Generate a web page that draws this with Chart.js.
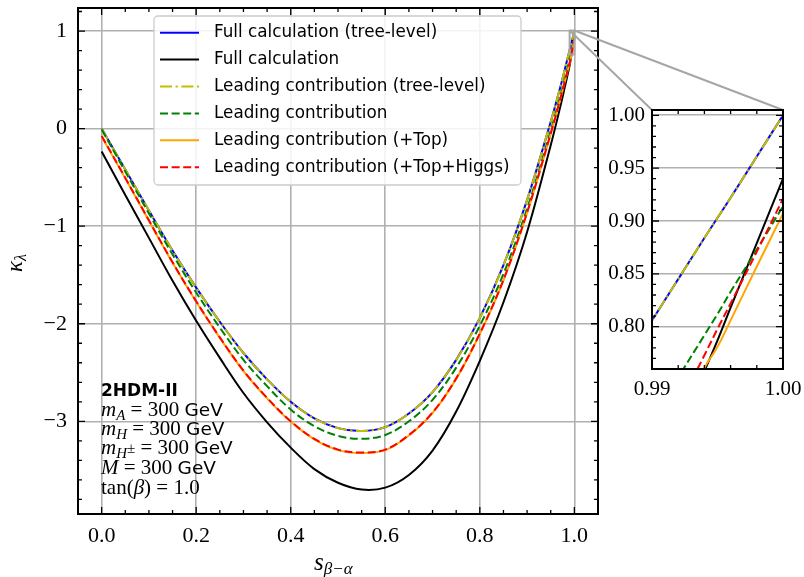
<!DOCTYPE html>
<html>
<head>
<meta charset="utf-8">
<script src="https://cdn.jsdelivr.net/npm/chart.js@4.4.1/dist/chart.umd.min.js"></script>
<style>
  html, body { margin: 0; padding: 0; background: #fff; }
  #wrap { position: relative; width: 804px; height: 577px; }
  #main { position: absolute; left: 0; top: 0; }
  #inset { position: absolute; left: 600px; top: 100px; }
</style>
</head>
<body>
<div id="wrap">
  <canvas id="main" width="804" height="577"></canvas>
  <canvas id="inset" width="204" height="310"></canvas>
</div>
<script>
const sValues = [0, 0.05, 0.1, 0.15, 0.2, 0.25, 0.3, 0.35, 0.4, 0.45, 0.5, 0.55, 0.6, 0.65, 0.7, 0.75, 0.8, 0.85, 0.9, 0.95, 0.97, 0.98, 0.99, 0.992, 0.994, 0.995, 0.996, 0.998, 1.0];

// kappa_lambda for each curve
const fullTree = [0.00, -0.42, -0.84, -1.25, -1.63, -1.98, -2.30, -2.57, -2.80, -2.97, -3.07, -3.10, -3.06, -2.92, -2.70, -2.37, -1.94, -1.40, -0.73, 0.07, 0.42, 0.61, 0.806, 0.845, 0.884, 0.903, 0.922, 0.961, 1.0];
const fullCalc = [-0.235, -0.68, -1.12, -1.56, -1.97, -2.35, -2.71, -3.01, -3.27, -3.49, -3.63, -3.70, -3.68, -3.55, -3.30, -2.90, -2.38, -1.78, -1.06, -0.17, 0.22, 0.43, 0.645, 0.703, 0.758, 0.787, 0.818, 0.879, 0.94];
const leadTree = [0.00, -0.42, -0.84, -1.25, -1.63, -1.98, -2.30, -2.57, -2.80, -2.97, -3.07, -3.10, -3.06, -2.92, -2.70, -2.37, -1.94, -1.40, -0.73, 0.07, 0.42, 0.61, 0.806, 0.845, 0.884, 0.903, 0.922, 0.961, 1.0];
const leadCalc = [-0.01, -0.44, -0.87, -1.29, -1.68, -2.04, -2.37, -2.64, -2.88, -3.05, -3.15, -3.18, -3.14, -3.00, -2.78, -2.45, -2.02, -1.49, -0.82, -0.02, 0.33, 0.515, 0.711, 0.752, 0.792, 0.812, 0.833, 0.873, 0.914];
const leadTop = [-0.08, -0.51, -0.945, -1.375, -1.775, -2.145, -2.485, -2.765, -3.005, -3.185, -3.295, -3.325, -3.295, -3.145, -2.915, -2.565, -2.105, -1.555, -0.865, -0.055, 0.295, 0.485, 0.668, 0.710, 0.761, 0.781, 0.806, 0.857, 0.907];
const leadTopHiggs = [-0.075, -0.505, -0.94, -1.37, -1.77, -2.14, -2.48, -2.76, -3.00, -3.18, -3.29, -3.32, -3.29, -3.14, -2.91, -2.56, -2.10, -1.55, -0.86, -0.05, 0.30, 0.49, 0.675, 0.724, 0.773, 0.798, 0.822, 0.871, 0.921];

const seriesLabels = [
  "Full calculation (tree-level)",
  "Full calculation",
  "Leading contribution (tree-level)",
  "Leading contribution",
  "Leading contribution (+Top)",
  "Leading contribution (+Top+Higgs)"
];

// tick labels
const xTicks = [0.0, 0.2, 0.4, 0.6, 0.8, 1.0];
const yTicks = [-3, -2, -1, 0, 1];
const insetXTicks = [0.99, 1.00];
const insetYTicks = [0.80, 0.85, 0.90, 0.95, 1.00];

const SERIF = '"Liberation Serif", serif';
const SANS = '"DejaVu Sans", sans-serif';

function points(ys) {
  return sValues.map((s, i) => ({ x: s, y: ys[i] }));
}

function makeDatasets() {
  const styles = [
    { color: "#0000ff", dash: [], order: 6 },
    { color: "#000000", dash: [], order: 5 },
    { color: "#bfbf00", dash: [12, 3.6, 2.2, 3.6], order: 4 },
    { color: "#008000", dash: [8, 3.6], order: 3 },
    { color: "#ffa500", dash: [], order: 2 },
    { color: "#ff0000", dash: [8, 3.6], order: 1 }
  ];
  const values = [fullTree, fullCalc, leadTree, leadCalc, leadTop, leadTopHiggs];
  return values.map((v, i) => ({
    label: seriesLabels[i],
    data: points(v),
    borderColor: styles[i].color,
    backgroundColor: styles[i].color,
    borderDash: styles[i].dash,
    borderWidth: 2,
    pointRadius: 0,
    tension: 0.35,
    order: styles[i].order
  }));
}

function minorList(from, to, step) {
  let out = [];
  for (let v = from; v <= to + step / 2; v += step) out.push(Math.round(v * 10000) / 10000);
  return out;
}

// pin the plot box: no extra room for overhanging tick labels
function fixWidth(w) {
  return s => { s.width = w; s.paddingTop = 0; s.paddingBottom = 0; };
}
function fixHeight(h) {
  return s => { s.height = h; s.paddingLeft = 0; s.paddingRight = 0; };
}

// inward ticks on all four sides, plus the black frame
function drawFrame(chart, xMaj, xMin, yMaj, yMin) {
  const ctx = chart.ctx, a = chart.chartArea;
  const xs = chart.scales.x, ys = chart.scales.y;
  ctx.save();
  ctx.strokeStyle = "#000";
  ctx.lineWidth = 1.3;
  ctx.beginPath();
  const tx = (list, len) => list.forEach(v => {
    const p = xs.getPixelForValue(v);
    if (p < a.left - 0.5 || p > a.right + 0.5) return;
    ctx.moveTo(p, a.bottom); ctx.lineTo(p, a.bottom - len);
    ctx.moveTo(p, a.top); ctx.lineTo(p, a.top + len);
  });
  const ty = (list, len) => list.forEach(v => {
    const p = ys.getPixelForValue(v);
    if (p < a.top - 0.5 || p > a.bottom + 0.5) return;
    ctx.moveTo(a.left, p); ctx.lineTo(a.left + len, p);
    ctx.moveTo(a.right, p); ctx.lineTo(a.right - len, p);
  });
  tx(xMaj, 7); tx(xMin, 4);
  ty(yMaj, 7); ty(yMin, 4);
  ctx.stroke();
  ctx.lineWidth = 2;
  ctx.strokeRect(a.left, a.top, a.right - a.left, a.bottom - a.top);
  ctx.restore();
}

function rich(ctx, x, y, parts) {
  let cx = x;
  parts.forEach(p => {
    ctx.font = p.f;
    ctx.fillText(p.t, cx, y + (p.dy || 0));
    cx += ctx.measureText(p.t).width;
  });
}

// ---------- inset ----------
const insetChart = new Chart(document.getElementById("inset"), {
  type: "line",
  data: { datasets: makeDatasets() },
  options: {
    responsive: false,
    animation: false,
    layout: { padding: { left: 0, right: 21, top: 10, bottom: 0 } },
    plugins: { legend: { display: false }, tooltip: { enabled: false } },
    scales: {
      x: {
        type: "linear", min: 0.99, max: 1.0,
        afterBuildTicks: s => { s.ticks = insetXTicks.map(v => ({ value: v })); },
        afterFit: fixHeight(41),
        grid: { display: false, drawTicks: false },
        border: { display: false },
        ticks: { color: "#000", padding: 8, maxRotation: 0, font: { family: SERIF, size: 21 }, callback: v => v.toFixed(2) }
      },
      y: {
        type: "linear", min: 0.76, max: 1.005,
        afterBuildTicks: s => { s.ticks = insetYTicks.map(v => ({ value: v })); },
        afterFit: fixWidth(52),
        grid: { color: "#b0b0b0", lineWidth: 1.6, drawTicks: false },
        border: { display: false },
        ticks: { color: "#000", padding: 7, font: { family: SERIF, size: 21 }, callback: v => v.toFixed(2) }
      }
    }
  },
  plugins: [{
    id: "insetFrame",
    afterDraw: chart => drawFrame(chart, insetXTicks, minorList(0.99, 1.0, 0.002), insetYTicks, minorList(0.76, 1.0, 0.01))
  }]
});

// ---------- main ----------
new Chart(document.getElementById("main"), {
  type: "line",
  data: { datasets: makeDatasets() },
  options: {
    responsive: false,
    animation: false,
    layout: { padding: { left: 0, right: 206, top: 8, bottom: 0 } },
    plugins: { legend: { display: false }, tooltip: { enabled: false } },
    scales: {
      x: {
        type: "linear", min: -0.05, max: 1.05,
        afterBuildTicks: s => { s.ticks = xTicks.map(v => ({ value: v })); },
        afterFit: fixHeight(63),
        grid: { color: "#b0b0b0", lineWidth: 1.6, drawTicks: false },
        border: { display: false },
        ticks: { color: "#000", padding: 9, maxRotation: 0, font: { family: SERIF, size: 22 }, callback: v => v.toFixed(1) }
      },
      y: {
        type: "linear", min: -3.95, max: 1.236,
        afterBuildTicks: s => { s.ticks = yTicks.map(v => ({ value: v })); },
        afterFit: fixWidth(78),
        grid: { color: "#b0b0b0", lineWidth: 1.6, drawTicks: false },
        border: { display: false },
        ticks: { color: "#000", padding: 11, font: { family: SERIF, size: 22 }, callback: v => String(v).replace("-", "\u2212") }
      }
    }
  },
  plugins: [{
    id: "mainExtras",
    afterDatasetsDraw: chart => {
      const ctx = chart.ctx;
      const ds = chart.data.datasets;
      // legend box
      ctx.save();
      ctx.beginPath();
      ctx.roundRect(154, 16, 367, 169, 4);
      ctx.fillStyle = "rgba(255,255,255,0.85)";
      ctx.fill();
      ctx.strokeStyle = "#cccccc";
      ctx.lineWidth = 1.3;
      ctx.stroke();
      ds.forEach((d, i) => {
        const y = 32.7 + i * 26.9;
        ctx.beginPath();
        ctx.setLineDash(d.borderDash);
        ctx.strokeStyle = d.borderColor;
        ctx.lineWidth = 2;
        ctx.moveTo(160, y); ctx.lineTo(199, y);
        ctx.stroke();
        ctx.setLineDash([]);
        ctx.fillStyle = "#000";
        ctx.font = "16.8px " + SANS;
        ctx.textBaseline = "middle";
        ctx.fillText(d.label, 214, y);
      });
      ctx.restore();
    },
    afterDraw: chart => {
      const ctx = chart.ctx;
      const xs = chart.scales.x, ys = chart.scales.y;
      drawFrame(chart, xTicks, minorList(-0.05, 1.05, 0.05), yTicks, minorList(-3.8, 1.2, 0.2));

      // zoom box and connectors to the inset
      const ia = insetChart.chartArea;
      const x0 = xs.getPixelForValue(0.99), x1 = xs.getPixelForValue(1.0);
      const y0 = ys.getPixelForValue(1.005), y1 = ys.getPixelForValue(0.76);
      ctx.save();
      ctx.strokeStyle = "#a6a6a6";
      ctx.lineWidth = 2;
      ctx.strokeRect(x0, y0, x1 - x0, y1 - y0);
      ctx.beginPath();
      ctx.moveTo(x0, y0); ctx.lineTo(600 + ia.left, 100 + ia.top);
      ctx.moveTo(x1, y0); ctx.lineTo(600 + ia.right, 100 + ia.top);
      ctx.stroke();
      ctx.restore();

      // parameter annotation
      ctx.save();
      ctx.fillStyle = "#000";
      ctx.textBaseline = "alphabetic";
      const it = "italic 21px " + SERIF, rm = "21px " + SERIF, sub = "italic 15px " + SERIF, gev = "18.5px " + SANS;
      const lx = 101;
      rich(ctx, lx, 396, [{ t: "2HDM-II", f: "bold 17px " + SANS }]);
      rich(ctx, lx, 416, [{ t: "m", f: it }, { t: "A", f: sub, dy: 4 }, { t: " = 300 ", f: rm }, { t: "GeV", f: gev }]);
      rich(ctx, lx, 435, [{ t: "m", f: it }, { t: "H", f: sub, dy: 4 }, { t: " = 300 ", f: rm }, { t: "GeV", f: gev }]);
      rich(ctx, lx, 454, [{ t: "m", f: it }, { t: "H", f: sub, dy: 4 }, { t: "\u00b1", f: "15px " + SERIF, dy: -1 }, { t: " = 300 ", f: rm }, { t: "GeV", f: gev }]);
      rich(ctx, lx, 474, [{ t: "M", f: it }, { t: " = 300 ", f: rm }, { t: "GeV", f: gev }]);
      rich(ctx, lx, 494, [{ t: "tan(", f: rm }, { t: "\u03b2", f: it }, { t: ") = 1.0", f: rm }]);

      // axis titles
      rich(ctx, 314, 570, [{ t: "s", f: "italic 25px " + SERIF }, { t: "\u03b2\u2212\u03b1", f: "italic 17px " + SERIF, dy: 4 }]);
      ctx.translate(22, 272);
      ctx.rotate(-Math.PI / 2);
      rich(ctx, 0, 0, [{ t: "\u03ba", f: "italic 23px " + SERIF }, { t: "\u03bb", f: "italic 16px " + SERIF, dy: 4 }]);
      ctx.restore();
    }
  }]
});
</script>
</body>
</html>
